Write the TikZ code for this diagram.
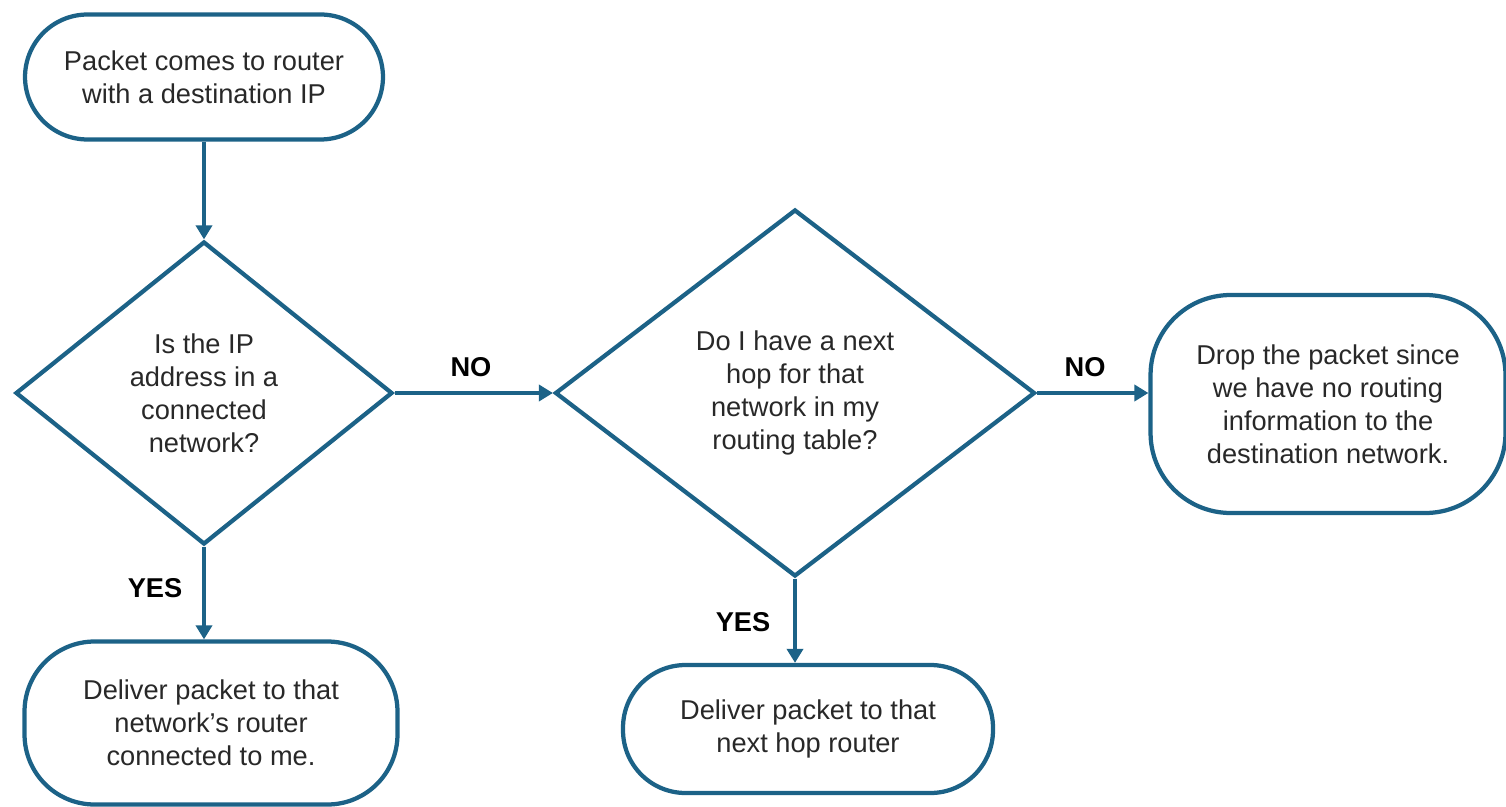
\documentclass[tikz,border=0pt]{standalone}
\usepackage{fontspec}
\setmainfont{Liberation Sans}
\usetikzlibrary{shapes.geometric,arrows.meta}
\definecolor{flowblue}{RGB}{28,98,135}
\definecolor{flowtext}{RGB}{40,40,40}

\begin{document}
\begin{tikzpicture}[x=0.02cm,y=-0.02cm,
  every node/.style={font=\fontsize{15.5}{18.8}\selectfont},
  term/.style={draw=flowblue,line width=0.085cm,rounded corners=1.25cm,align=center,text=flowtext,inner sep=0pt},
  decide/.style={draw=flowblue,line width=0.085cm,diamond,align=center,text=flowtext,inner sep=0pt},
  arr/.style={draw=flowblue,line width=0.085cm,-{Triangle[width=0.32cm,length=0.28cm]}},
  answer/.style={font=\fontsize{15.5}{18.8}\selectfont\bfseries,text=black}]
\useasboundingbox (0,0) rectangle (1506,807);

\node[term,minimum width=7.16cm,minimum height=2.5cm] (start) at (204,77) {Packet comes to router\\with a destination IP};
\node[decide,minimum width=7.54cm,minimum height=6.06cm] (q1) at (204,393) {Is the IP\\address in a\\connected\\network?};
\node[decide,minimum width=9.6cm,minimum height=7.34cm] (q2) at (795,393) {Do I have a next\\hop for that\\network in my\\routing table?};
\node[term,minimum width=7.1cm,minimum height=4.36cm,rounded corners=1.6cm] (drop) at (1328,404) {Drop the packet since\\we have no routing\\information to the\\destination network.};
\node[term,minimum width=7.46cm,minimum height=3.26cm,rounded corners=1.4cm] (del1) at (211,723) {Deliver packet to that\\network's router\\connected to me.};
\node[term,minimum width=7.4cm,minimum height=2.56cm] (del2) at (808,729) {Deliver packet to that\\next hop router};

\node[answer] (no1) at (471,367) {NO};
\node[answer] (no2) at (1085,367) {NO};
\node[answer] (yes1) at (155,588) {YES};
\node[answer] (yes2) at (743,622) {YES};

\foreach \from/\to in {start.south/q1.north,q1.south/del1.north,q2.south/del2.north}
\draw[arr] (\from) -- (\from |- \to);
\foreach \from/\to in {q1.east/q2.west,q2.east/drop.west}
\draw[arr] (\from) -- (\from -| \to);
\end{tikzpicture}
\end{document}
